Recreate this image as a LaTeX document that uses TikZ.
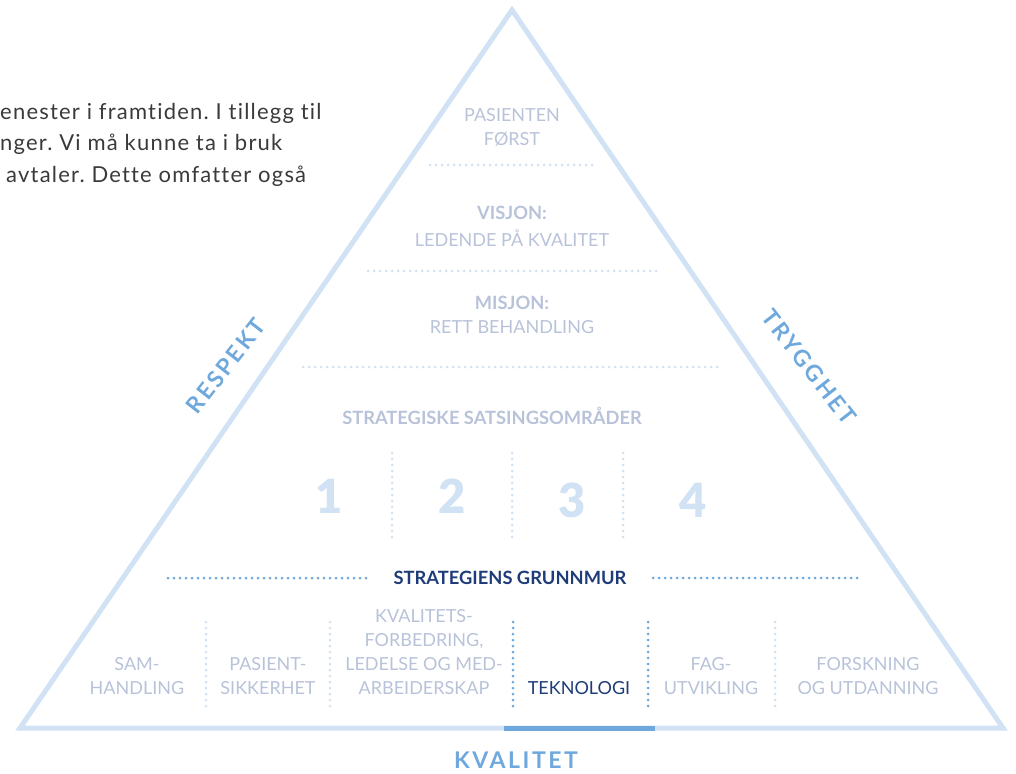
\documentclass[tikz,border=0pt]{standalone}
\usepackage{fontspec}
\setmainfont{Lato}
\newfontfamily\heavyfont{Lato Black}
\usetikzlibrary{positioning}

\definecolor{pyrlight}{HTML}{D0E2F3}
\definecolor{pyrmid}{HTML}{6EA8DC}
\definecolor{pyrnavy}{HTML}{1E3C78}
\definecolor{pyrgray}{HTML}{B8C2D9}
\definecolor{bodytext}{HTML}{3A3A3A}

\begin{document}
\begin{tikzpicture}[x=1pt, y=-1pt,
  lbl/.style={text=pyrgray, font=\fontsize{18}{24}\selectfont, align=center, inner sep=0pt},
  boldlbl/.style={lbl, font=\fontsize{18.3}{24}\selectfont\bfseries},
  num/.style={text=pyrlight, inner sep=0pt, font=\fontsize{47}{47}\heavyfont},
  side/.style={text=pyrmid, inner sep=0pt, font=\fontsize{23}{23}\selectfont\bfseries\addfontfeatures{LetterSpace=11}},
  para/.style={text=bodytext, inner sep=0pt, anchor=base west, font=\fontsize{22}{24}\selectfont\frenchspacing\addfontfeatures{Ligatures=NoCommon, LetterSpace=5.5}},
  dots/.style={line width=3pt, line cap=round, dash pattern=on 0pt off 6pt}]
\useasboundingbox (0,0) rectangle (1016,773);

% text cut by the picture
\node[para] (p1) at (0,119) {enester i framtiden. I tillegg til};
\node[para] (p2) at (0,150) {nger. Vi må kunne ta i bruk};
\node[para] (p3) at (6,182) {avtaler. Dette omfatter også};

% pyramid
\coordinate (apex) at (512,10);
\coordinate (bl) at (20,728);
\coordinate (br) at (1003,728);
\draw[pyrlight, line width=5pt] (bl) -- (apex) -- (br) -- cycle;
\coordinate (kb1) at (504,728);
\coordinate (kb2) at (655,728);
\draw[pyrmid, line width=5pt] (kb1) -- (kb2);

\node[lbl] (pasient) at (512,127) {PASIENTEN\\FØRST};
\coordinate (d1a) at (430,165); \coordinate (d1b) at (593,165);
\draw[dots, pyrlight] (d1a) -- (d1b);

\node[boldlbl] (visjon) at (512,213) {VISJON:};
\node[lbl] (ledende) at (512,238) {LEDENDE PÅ KVALITET};
\coordinate (d2a) at (368,271); \coordinate (d2b) at (657,271);
\draw[dots, pyrlight] (d2a) -- (d2b);

\node[boldlbl] (misjon) at (512,303) {MISJON:};
\node[lbl] (rett) at (512,327) {RETT BEHANDLING};
\coordinate (d3a) at (303,367); \coordinate (d3b) at (722,367);
\draw[dots, pyrlight] (d3a) -- (d3b);

\node[boldlbl] (strat) at (492,416) {STRATEGISKE SATSINGSOMRÅDER};

\node[num] (n1) at (329,496) {1};
\node[num] (n2) at (452,496) {2};
\node[num] (n3) at (572,500) {3};
\node[num] (n4) at (693,500) {4};
\foreach \x in {392,512,623}
  \draw[dots, pyrlight] (\x,453) -- (\x,537);

\node[boldlbl, text=pyrnavy] (grunnmur) at (510,578) {STRATEGIENS GRUNNMUR};
\coordinate (g1a) at (168,578); \coordinate (g1b) at (367,578);
\coordinate (g2a) at (653,578); \coordinate (g2b) at (858,578);
\draw[dots, pyrmid] (g1a) -- (g1b);
\draw[dots, pyrmid] (g2a) -- (g2b);

\node[lbl] (samh) at (137,676) {SAM-\\HANDLING};
\node[lbl] (pasientsikk) at (268,676) {PASIENT-\\SIKKERHET};
\node[lbl] (kvalforb) at (424,652) {KVALITETS-\\FORBEDRING,\\LEDELSE OG MED-\\ARBEIDERSKAP};
\node[lbl, text=pyrnavy] (tekno) at (579,688) {TEKNOLOGI};
\node[lbl] (fag) at (711,676) {FAG-\\UTVIKLING};
\node[lbl] (forsk) at (868,676) {FORSKNING\\OG UTDANNING};
\foreach \x in {206,330,775}
  \draw[dots, pyrlight] (\x,622) -- (\x,706);
\foreach \x in {513,648}
  \draw[dots, pyrmid] (\x,622) -- (\x,706);

\node[side, rotate=52] (respekt) at (226,366) {RESPEKT};
\node[side, rotate=-52] (trygghet) at (809,367) {TRYGGHET};
\node[side] (kvalitet) at (516,760) {KVALITET};
\end{tikzpicture}
\end{document}
